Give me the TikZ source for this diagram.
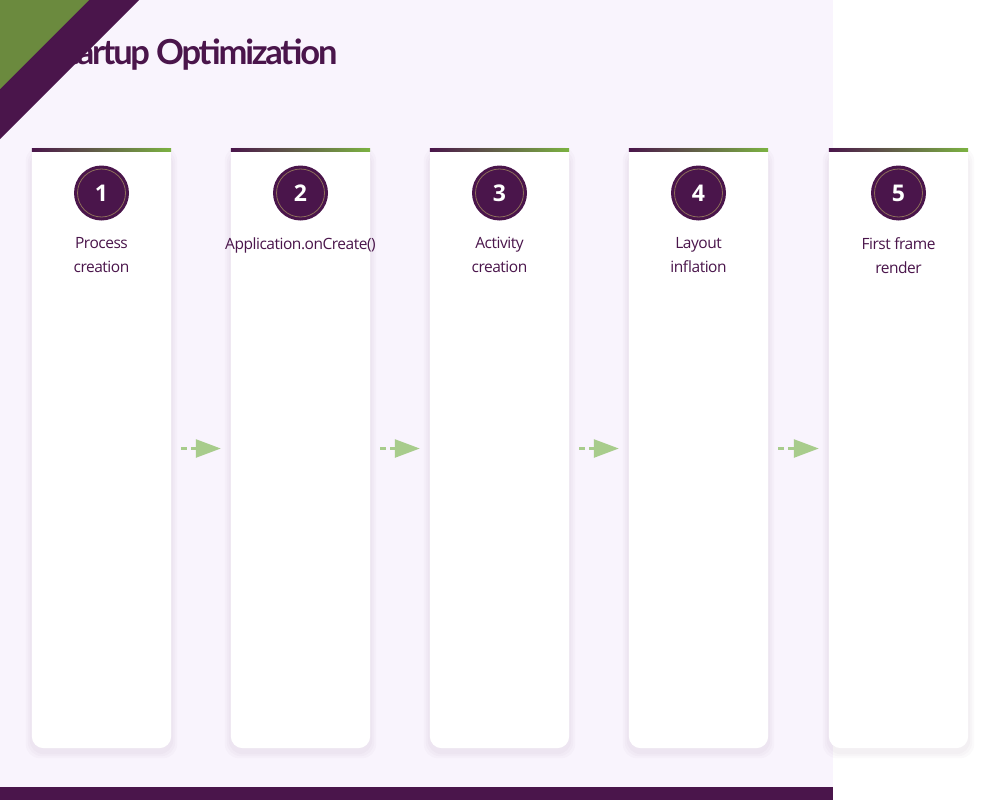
\documentclass[tikz,border=0pt]{standalone}
\usepackage{fontspec}
\usepackage{xcolor}
\setmainfont{Open Sans}
\newfontfamily\titlefont[LetterSpace=-6.5]{Lato}
\newfontfamily\labelfont[LetterSpace=-3.0]{Open Sans}
\usetikzlibrary{
    arrows.meta,
    positioning,
    calc
}
\definecolor{plum}{HTML}{4A154B}
\definecolor{olive}{HTML}{6B8A3E}
\definecolor{leaf}{HTML}{7CB342}
\definecolor{mint}{HTML}{A8CC8C}
\definecolor{lavender}{HTML}{F9F4FD}
\definecolor{ringtone}{HTML}{8C6E5A}

\begin{document}
\begin{tikzpicture}[
        x=1pt, y=-1pt,
        card/.style={rectangle, fill=white, rounded corners=12pt, minimum width=139pt, minimum height=599pt, inner sep=0pt},
        haze/.style={fill=plum, fill opacity=0.018, rounded corners=14pt},
        badge/.style={circle, fill=plum, minimum size=55pt, inner sep=0pt, text=white, font=\fontsize{23}{24}\selectfont\bfseries},
        steplabel/.style={align=center, text=plum, font=\labelfont\fontsize{15.5}{24}\selectfont},
        flow/.style={-{Triangle[length=25pt, width=18pt]}, draw=mint, line width=2.5pt, dash pattern=on 6pt off 4pt, shorten <=10pt, shorten >=10pt}
    ]
        \useasboundingbox (0,0) rectangle (1000,800);

        % Background
        \fill[white] (0,0) rectangle (1000,800);
        \fill[lavender] (0,0) rectangle (833,787);
        \fill[plum] (0,787) rectangle (833,800);

        % Title
        \node[anchor=base west, inner sep=0pt, text=plum, font=\titlefont\fontsize{34.5}{36}\selectfont\bfseries] (title) at (50,64) {Startup Optimization};

        % Corner
        \fill[plum] (0,0) -- (139,0) -- (0,139) -- cycle;
        \fill[olive] (0,0) -- (89,0) -- (0,89) -- cycle;

        % Cards
        \node[card] (c1) at (101.5,448.5) {};
        \node[card] (c2) at (300.5,448.5) {};
        \node[card] (c3) at (499.5,448.5) {};
        \node[card] (c4) at (698.5,448.5) {};
        \node[card] (c5) at (898.5,448.5) {};

        \foreach \c in {c1,c2,c3,c4,c5} {
            \foreach \d in {2,4,6}
                \fill[haze] ($(\c.north west)+(-\d,-\d+4)$) rectangle ($(\c.south east)+(\d,\d+4)$);
            \fill[white, rounded corners=12pt] (\c.north west) rectangle (\c.south east);
            \fill[white] (\c.north west) rectangle ($(\c.north east)+(0,20)$);
            \shade[left color=plum, right color=leaf] (\c.north west) rectangle ($(\c.north east)+(0,3)$);
        }

        % Badges
        \node[badge] (b1) at (101.5,193) {1};
        \node[badge] (b2) at (300.5,193) {2};
        \node[badge] (b3) at (499.5,193) {3};
        \node[badge] (b4) at (698.5,193) {4};
        \node[badge] (b5) at (898.5,193) {5};
        \foreach \b in {b1,b2,b3,b4,b5}
            \draw[ringtone, line width=0.8pt] (\b.center) circle (24pt);

        % Step labels
        \node[steplabel, anchor=north] (l1) at (101.5,234) {Process\\creation};
        \node[steplabel, anchor=north] (l2) at (300.5,234) {Application.onCreate()};
        \node[steplabel, anchor=north] (l3) at (499.5,234) {Activity\\creation};
        \node[steplabel, anchor=north] (l4) at (698.5,234) {Layout\\inflation};
        \node[steplabel, anchor=north] (l5) at (898.5,234) {First frame\\render};

        % Arrows
        \draw[flow] (c1) -- (c2);
        \draw[flow] (c2) -- (c3);
        \draw[flow] (c3) -- (c4);
        \draw[flow] (c4) -- (c5);
    \end{tikzpicture}
\end{document}
